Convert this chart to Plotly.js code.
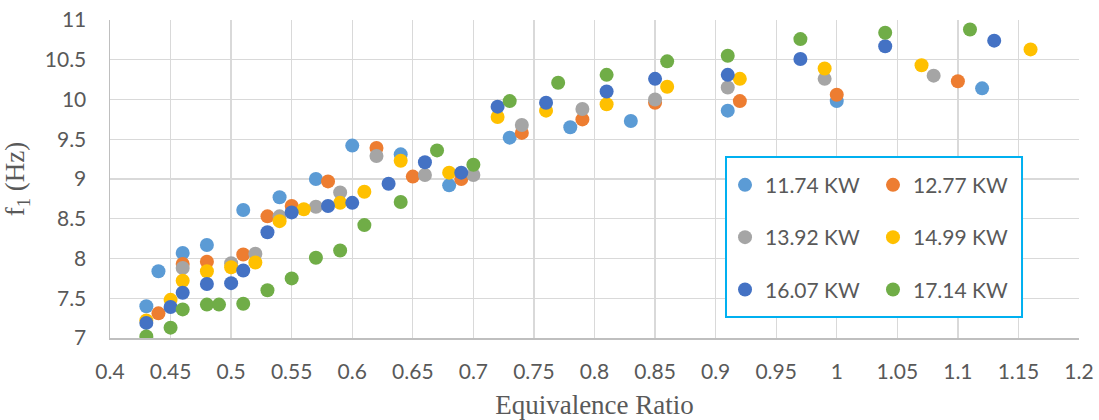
<!DOCTYPE html>
<html>
<head>
<meta charset="utf-8">
<script src="https://cdn.plot.ly/plotly-3.0.1.min.js"></script>
<style>html,body{margin:0;padding:0;background:#fff;}#chart{width:1099px;height:420px;}</style>
</head>
<body>
<div id="chart"></div>
<script>
const seriesNames = ["11.74 KW", "12.77 KW", "13.92 KW", "14.99 KW", "16.07 KW", "17.14 KW"];
const seriesColors = ["#5B9BD5", "#ED7D31", "#A5A5A5", "#FFC000", "#4472C4", "#70AD47"];

const x1174 = [0.43,0.44,0.46,0.48,0.51,0.54,0.57,0.60,0.64,0.68,0.73,0.78,0.83,0.91,1.00,1.12];
const y1174 = [7.40,7.84,8.07,8.17,8.61,8.77,9.00,9.42,9.31,8.92,9.52,9.65,9.73,9.86,9.98,10.14];

const x1277 = [0.44,0.46,0.48,0.51,0.53,0.55,0.58,0.62,0.65,0.69,0.74,0.79,0.85,0.92,1.00,1.10];
const y1277 = [7.31,7.93,7.96,8.05,8.53,8.66,8.97,9.39,9.03,9.00,9.58,9.75,9.96,9.98,10.06,10.23];

const x1392 = [0.46,0.50,0.52,0.54,0.57,0.59,0.62,0.66,0.70,0.74,0.79,0.85,0.91,0.99,1.08];
const y1392 = [7.88,7.94,8.06,8.53,8.65,8.83,9.29,9.05,9.05,9.68,9.88,10.00,10.15,10.26,10.30];

const x1499 = [0.43,0.45,0.46,0.48,0.50,0.52,0.54,0.56,0.59,0.61,0.64,0.68,0.72,0.76,0.81,0.86,0.92,0.99,1.07,1.16];
const y1499 = [7.22,7.48,7.72,7.84,7.89,7.95,8.47,8.62,8.70,8.84,9.23,9.08,9.78,9.86,9.94,10.16,10.26,10.39,10.43,10.63];

const x1607 = [0.43,0.45,0.46,0.48,0.50,0.51,0.53,0.55,0.58,0.60,0.63,0.66,0.69,0.72,0.76,0.81,0.85,0.91,0.97,1.04,1.13];
const y1607 = [7.19,7.39,7.57,7.68,7.69,7.85,8.33,8.58,8.66,8.70,8.94,9.21,9.08,9.91,9.96,10.10,10.26,10.31,10.51,10.67,10.74];

const x1714 = [0.43,0.45,0.46,0.48,0.49,0.51,0.53,0.55,0.57,0.59,0.61,0.64,0.67,0.70,0.73,0.77,0.81,0.86,0.91,0.97,1.04,1.11];
const y1714 = [7.02,7.13,7.36,7.42,7.42,7.43,7.60,7.75,8.01,8.10,8.42,8.71,9.36,9.18,9.98,10.21,10.31,10.48,10.55,10.76,10.84,10.88];

const xs = [x1174, x1277, x1392, x1499, x1607, x1714];
const ys = [y1174, y1277, y1392, y1499, y1607, y1714];

const legendOf = ["legend", "legend2", "legend", "legend2", "legend", "legend2"];

const traces = seriesNames.map((name, i) => ({
  type: "scatter",
  mode: "markers",
  name: name,
  x: xs[i],
  y: ys[i],
  legend: legendOf[i],
  legendgroup: "g" + i,
  marker: {color: seriesColors[i], size: 14, line: {width: 0}}
}));

const tickFont = {family: "Lato, 'Open Sans', sans-serif", size: 21, color: "#595959"};
const titleFont = {family: "'Liberation Serif', 'DejaVu Serif', serif", size: 27, color: "#595959"};
const legendStyle = {
  orientation: "v",
  traceorder: "grouped",
  tracegroupgap: 22,
  bgcolor: "rgba(0,0,0,0)",
  borderwidth: 0,
  font: {family: "Lato, 'Open Sans', sans-serif", size: 21, color: "#595959"},
  xanchor: "left",
  yanchor: "top",
  itemwidth: 30
};

const layout = {
  width: 1099,
  height: 420,
  margin: {l: 110, r: 20, t: 20, b: 82},
  paper_bgcolor: "#ffffff",
  plot_bgcolor: "#ffffff",
  showlegend: true,
  xaxis: {
    range: [0.4, 1.2],
    dtick: 0.05,
    tick0: 0.4,
    showgrid: true,
    gridcolor: "#D9D9D9",
    gridwidth: 1.3,
    zeroline: false,
    showline: true,
    linecolor: "#BFBFBF",
    linewidth: 1.5,
    ticks: "",
    ticklabelstandoff: 14,
    tickfont: tickFont,
    title: {text: "Equivalence Ratio", font: titleFont, standoff: 16}
  },
  yaxis: {
    range: [7, 11],
    dtick: 0.5,
    tick0: 7,
    showgrid: true,
    gridcolor: "#D9D9D9",
    gridwidth: 1.3,
    zeroline: false,
    showline: true,
    linecolor: "#BFBFBF",
    linewidth: 1.5,
    ticks: "",
    ticklabelstandoff: 18,
    tickfont: tickFont,
    title: {text: "f<sub>1</sub> (Hz)", font: titleFont, standoff: 14}
  },
  legend: Object.assign({}, legendStyle, {x: 0.6347, y: 0.545}),
  legend2: Object.assign({}, legendStyle, {x: 0.7874, y: 0.545}),
  shapes: [{
    type: "rect",
    xref: "paper",
    yref: "paper",
    x0: 0.6357, x1: 0.9412,
    y0: 0.066, y1: 0.569,
    line: {color: "#00B0F0", width: 2},
    fillcolor: "#ffffff",
    layer: "above"
  }]
};

Plotly.newPlot("chart", traces, layout, {displayModeBar: false, staticPlot: true});
</script>
</body>
</html>
